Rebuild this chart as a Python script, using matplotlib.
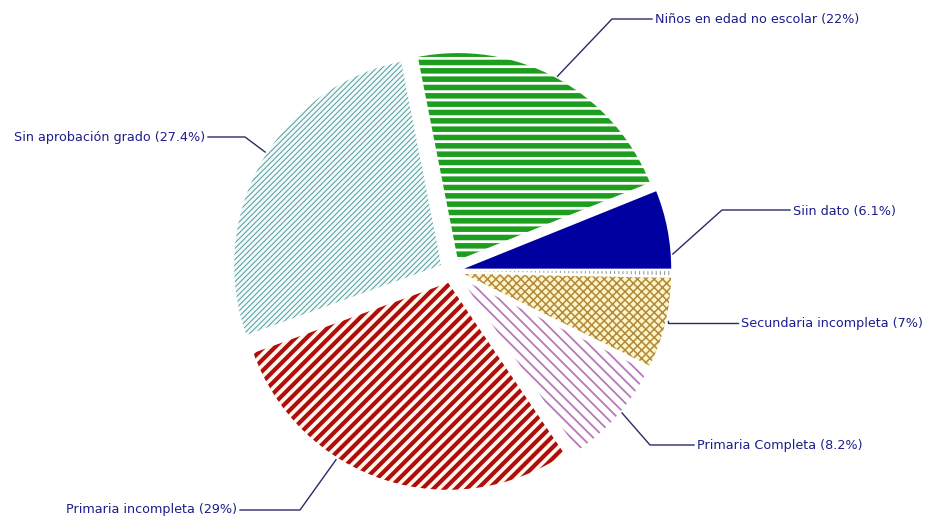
import matplotlib
matplotlib.use("Agg")
import matplotlib.pyplot as plt
import numpy as np

# datos del grafico
categorias = ["Siin dato", "Niños en edad no escolar", "Sin aprobación grado",
              "Primaria incompleta", "Primaria Completa", "Secundaria incompleta", ""]
porcentajes = [6.1, 22, 27.4, 29, 8.2, 7, 0.3]
etiquetas = ["Siin dato (6.1%)", "Niños en edad no escolar (22%)",
             "Sin aprobación grado (27.4%)", "Primaria incompleta (29%)",
             "Primaria Completa (8.2%)", "Secundaria incompleta (7%)", ""]

# estilos de cada porcion: fondo, color de trama, trama, grosor
fondos = ["#0000a0", "white", "#f2fafa", "#fff8ec", "white", "#fff3c8", "white"]
tramas_color = ["#0000a0", "#1e9e1e", "#4f9c9c", "#b00e0e", "#b878b8", "#b08a3c", "#999999"]
tramas = [None, "--", "//////", "///", "\\\\\\", "xxxx", "||||"]
tramas_lw = [1, 4.0, 0.7, 3.0, 1.3, 1.1, 0.8]

W, H = 926, 517
CX, CY, R = 452, 271, 207   # centro y radio del pastel en pixeles

def px(x, y):
    return ((x - CX) / R, (CY - y) / R)

fig = plt.figure(figsize=(W / 100, H / 100), dpi=100)
ax = fig.add_axes([0, 0, 1, 1])

wedges, _ = ax.pie(porcentajes, startangle=0, counterclock=True,
                   explode=[0.06] * len(porcentajes), radius=1.0,
                   colors=fondos, wedgeprops=dict(linewidth=0))

ax.set_xlim(-CX / R, (W - CX) / R)
ax.set_ylim(-(H - CY) / R, CY / R)
ax.axis("off")

for w, fc, hc, h, lw in zip(wedges, fondos, tramas_color, tramas, tramas_lw):
    w.set_facecolor(fc)
    w.set_edgecolor(hc)
    w.set_linewidth(0)
    if h:
        w.set_hatch(h)
        if hasattr(w, "set_hatch_linewidth"):
            w.set_hatch_linewidth(lw)

# posicion de cada etiqueta (fraccion dentro de la porcion, codo, texto)
fraccion = [0.2, 0.5, 0.47, 0.37, 0.54, 0.52]
codos = [(722, 210), (612, 19), (245, 137), (300, 510), (650, 445), None]
textos = [(793, 211, "left"), (655, 19, "left"), (205, 137, "right"),
          (237, 510, "right"), (697, 445, "left"), (741, 323, "left")]

azul = "#1c1c8c"
for i in range(6):
    w = wedges[i]
    ang = np.deg2rad(w.theta1 + fraccion[i] * (w.theta2 - w.theta1))
    x0, y0 = 1.07 * np.cos(ang), 1.07 * np.sin(ang)
    tx, ty, ha = textos[i]
    tx_d, ty_d = px(tx, ty)
    if codos[i] is None:
        ex, ey = x0, ty_d
    else:
        ex, ey = px(*codos[i])
    gap = -3 / R if ha == "left" else 3 / R
    ax.plot([x0, ex, tx_d + gap], [y0, ey, ey], color="#2a2a6a", lw=1)
    ax.text(tx_d, ty_d, etiquetas[i], ha=ha, va="center", color=azul,
            fontsize=9.2, family="DejaVu Sans")

fig.savefig("out.png", dpi=100, facecolor="white")
